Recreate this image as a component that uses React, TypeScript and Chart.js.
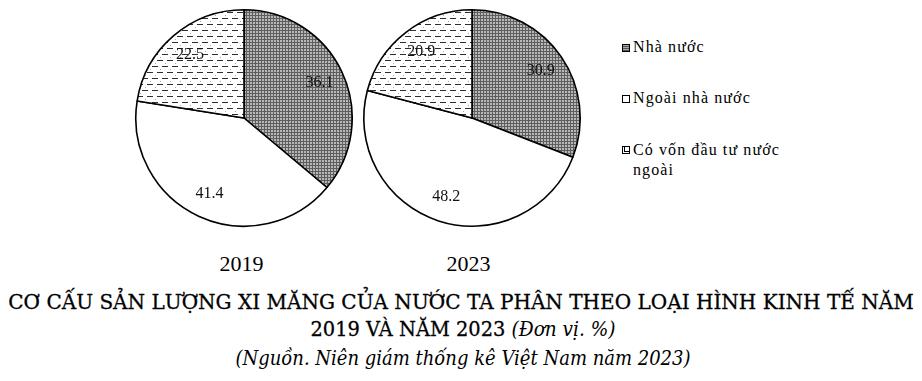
import React, { useEffect, useLayoutEffect, useRef, useState } from 'react';
import { Chart, registerables } from 'chart.js';

Chart.register(...registerables);

const categories = ['Nhà nước', 'Ngoài nhà nước', 'Có vốn đầu tư nước ngoài'];
const years = ['2019', '2023'];
const values2019 = [36.1, 41.4, 22.5];
const values2023 = [30.9, 48.2, 20.9];
const titleLine1 = 'CƠ CẤU SẢN LƯỢNG XI MĂNG CỦA NƯỚC TA PHÂN THEO LOẠI HÌNH KINH TẾ NĂM';
const titleLine2 = '2019 VÀ NĂM 2023';
const unitText = '(Đơn vị. %)';
const sourceText = '(Nguồn. Niên giám thống kê Việt Nam năm 2023)';

function makeGridPattern(): CanvasPattern | string {
  const c = document.createElement('canvas');
  c.width = 3;
  c.height = 3;
  const g = c.getContext('2d');
  if (!g) return '#888';
  g.fillStyle = '#b8b8b8';
  g.fillRect(0, 0, 3, 3);
  g.fillStyle = '#5e5e5e';
  g.fillRect(0, 0, 3, 1);
  g.fillRect(0, 0, 1, 3);
  return g.createPattern(c, 'repeat') || '#888';
}

function makeDashPattern(): CanvasPattern | string {
  const c = document.createElement('canvas');
  c.width = 10;
  c.height = 12;
  const g = c.getContext('2d');
  if (!g) return '#fff';
  g.fillStyle = '#ffffff';
  g.fillRect(0, 0, 10, 12);
  g.fillStyle = '#2e2e2e';
  g.fillRect(0, 0, 6, 1);
  g.fillRect(5, 6, 5, 1);
  g.fillRect(0, 6, 1, 1);
  g.fillStyle = '#a8a8a8';
  g.fillRect(8, 3, 1, 1);
  g.fillRect(3, 9, 1, 1);
  return g.createPattern(c, 'repeat') || '#fff';
}

const sliceLabelPlugin = {
  id: 'sliceLabels',
  afterDatasetsDraw(chart: any) {
    const ctx = chart.ctx;
    const meta = chart.getDatasetMeta(0);
    const data = chart.data.datasets[0].data as number[];
    ctx.save();
    ctx.font = '16px "Liberation Serif", serif';
    ctx.fillStyle = '#111';
    ctx.textAlign = 'center';
    ctx.textBaseline = 'middle';
    meta.data.forEach((arc: any, i: number) => {
      const p = arc.getProps(['x', 'y', 'startAngle', 'endAngle', 'outerRadius'], true);
      const mid = (p.startAngle + p.endAngle) / 2;
      const r = p.outerRadius * 0.77;
      ctx.fillText(data[i].toFixed(1), p.x + Math.cos(mid) * r, p.y + Math.sin(mid) * r);
    });
    ctx.restore();
  },
};

function Pie({ values, left, top, size }: { values: number[]; left: number; top: number; size: number }) {
  const ref = useRef<HTMLCanvasElement>(null);
  useEffect(() => {
    if (!ref.current) return;
    const chart = new Chart(ref.current, {
      type: 'pie',
      data: {
        labels: categories,
        datasets: [
          {
            data: values,
            backgroundColor: [makeGridPattern(), '#ffffff', makeDashPattern()] as any,
            borderColor: '#000',
            borderWidth: 1.6,
          },
        ],
      },
      options: {
        responsive: false,
        maintainAspectRatio: false,
        animation: false,
        layout: { padding: 3 },
        plugins: { legend: { display: false }, tooltip: { enabled: false }, title: { display: false } },
      },
      plugins: [sliceLabelPlugin],
    });
    return () => chart.destroy();
  }, [values]);
  return (
    <canvas
      ref={ref}
      width={size}
      height={size}
      style={{ position: 'absolute', left, top, width: size, height: size }}
    />
  );
}

function FitLine({ top, center, target, children, lineHeight }: { top: number; center: number; target: number; children: React.ReactNode; lineHeight: number }) {
  const ref = useRef<HTMLSpanElement>(null);
  const [scale, setScale] = useState(1);
  useLayoutEffect(() => {
    const measure = () => {
      if (!ref.current) return;
      const w = ref.current.offsetWidth;
      if (w > 0) setScale(target / w);
    };
    measure();
    (document as any).fonts?.ready?.then(measure);
  }, [target]);
  return (
    <div style={{ position: 'absolute', left: center, top, lineHeight: `${lineHeight}px`, whiteSpace: 'nowrap' }}>
      <span
        ref={ref}
        style={{ display: 'inline-block', transform: `translateX(-50%) scaleX(${scale})`, transformOrigin: 'center' }}
      >
        {children}
      </span>
    </div>
  );
}

const markerBase: React.CSSProperties = {
  position: 'absolute',
  width: 6,
  height: 6,
  border: '1px solid #000',
};

export default function App() {
  const legendText: React.CSSProperties = {
    position: 'absolute',
    left: 633,
    fontFamily: '"Liberation Serif", serif',
    fontSize: 16,
    letterSpacing: '1.1px',
    color: '#000',
    lineHeight: '20px',
    whiteSpace: 'nowrap',
  };
  const yearStyle: React.CSSProperties = {
    position: 'absolute',
    width: 80,
    textAlign: 'center',
    fontFamily: '"Liberation Serif", serif',
    fontSize: 22,
    lineHeight: '22px',
    color: '#000',
  };
  const titleFont: React.CSSProperties = {
    fontFamily: '"DejaVu Serif", serif',
    fontSize: 21,
    color: '#000',
    WebkitTextStroke: '0.3px #000',
  };
  const italicFont: React.CSSProperties = {
    ...titleFont,
    fontStyle: 'italic',
    fontSize: 20,
    WebkitTextStroke: '0px',
  };
  return (
    <div style={{ position: 'absolute', left: 0, top: 0, width: 922, height: 381, background: '#fff', overflow: 'hidden' }}>
      <Pie values={values2019} left={132} top={6} size={224} />
      <Pie values={values2023} left={360} top={6} size={224} />

      <div style={{ ...yearStyle, left: 241.5 - 40, top: 253 }}>{years[0]}</div>
      <div style={{ ...yearStyle, left: 468.5 - 40, top: 253 }}>{years[1]}</div>

      <div style={{ ...markerBase, left: 622, top: 44, background: 'repeating-linear-gradient(0deg,#555 0 1px,#aaa 1px 2px)' }} />
      <div style={{ ...legendText, top: 37 }}>{categories[0]}</div>
      <div style={{ ...markerBase, left: 622, top: 95, background: '#fff' }} />
      <div style={{ ...legendText, top: 88 }}>{categories[1]}</div>
      <div style={{ ...markerBase, left: 622, top: 146, background: '#fff', boxShadow: 'inset 1px -1px 0 #fff, inset 2px -2px 0 #000' }} />
      <div style={{ ...legendText, top: 140 }}>
        Có vốn đầu tư nước
        <br />
        ngoài
      </div>

      <FitLine top={288} center={460.5} target={905} lineHeight={28}>
        <span style={titleFont}>{titleLine1}</span>
      </FitLine>
      <FitLine top={315} center={462.5} target={305} lineHeight={28}>
        <span style={titleFont}>{titleLine2} </span>
        <span style={italicFont}>{unitText}</span>
      </FitLine>
      <FitLine top={344} center={462.5} target={455} lineHeight={28}>
        <span style={italicFont}>{sourceText}</span>
      </FitLine>
    </div>
  );
}
